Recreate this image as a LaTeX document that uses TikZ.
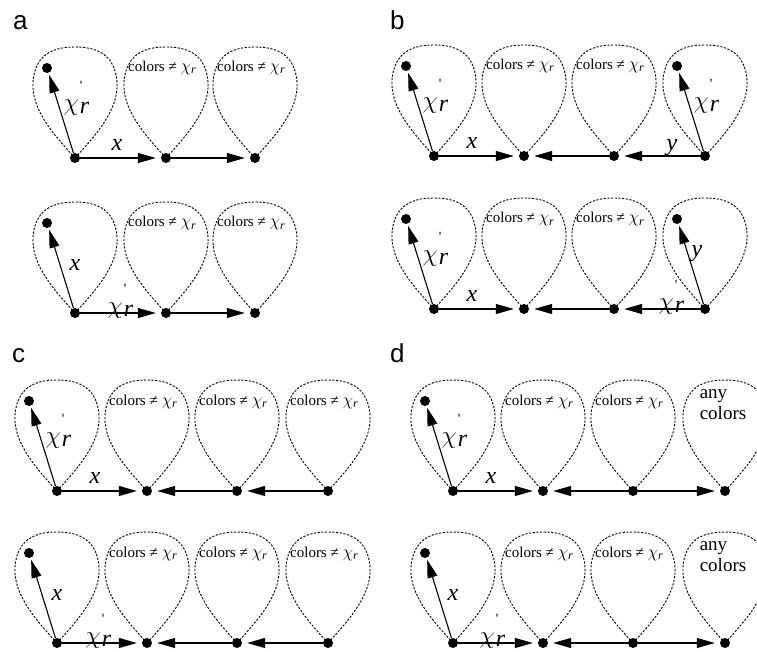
\documentclass[tikz,border=0pt]{standalone}
\usepackage{fontspec}
\setmainfont{Liberation Serif}
\newfontfamily\panelfont{Liberation Sans}
\usetikzlibrary{arrows.meta,calc}
\tikzset{
  vdot/.style={circle,fill=black,inner sep=0pt,minimum size=10pt},
  loopline/.style={line width=0.9pt,dash pattern=on 2.2pt off 1.5pt},
  harr/.style={line width=1.1pt,-{Triangle[length=18pt,width=10pt]},shorten >=5pt},
  larr/.style={line width=1.1pt,-{Triangle[length=18pt,width=10pt]},shorten >=2pt},
  ctext/.style={font=\fontsize{15}{15}\selectfont,inner sep=0pt,anchor=base},
  lab/.style={font=\fontsize{24}{24}\selectfont\itshape,inner sep=0pt},
  anytext/.style={font=\fontsize{19}{21}\selectfont,inner sep=0pt,align=left},
  panel/.style={font=\panelfont\fontsize{26}{26}\selectfont,anchor=base west,inner sep=0pt},
}
\newcommand\chip{{\fontsize{26}{26}\selectfont$\chi$}\hspace{1pt}\makebox[0pt][l]{\raisebox{-3pt}{r}}\raisebox{20pt}{\fontsize{14}{14}\selectfont\upshape\textquotesingle}\hspace{5pt}}
\newcommand\cneq{colors ≠ {\fontsize{17}{17}\selectfont$\chi$}\raisebox{-2pt}{\fontsize{12}{12}\selectfont\itshape r}}
\newcommand\vtx[3]{\node[vdot] (#1) at (#2,#3) {};
  \begin{scope}[shift={(#2,#3)}]
  \draw[loopline] (0,0) .. controls (-20,-22) and (-44,-48) .. (-42,-76)
     .. controls (-40,-102) and (-24,-111) .. (0,-111)
     .. controls (24,-111) and (40,-102) .. (42,-76)
     .. controls (44,-48) and (20,-22) .. (0,0);
  \end{scope}}
\newcommand\ctx[1]{\node[ctext] at ($(#1)+(-4,-86)$) {\cneq};}
\begin{document}
\begin{tikzpicture}[x=1pt,y=-1pt]
\useasboundingbox (0,0) rectangle (757,652);
\clip (0,0) rectangle (757,652);
% ---------------- panel a
\node[panel] (pa) at (13,30) {a};
\vtx{a11}{75}{158}\vtx{a12}{166}{158}\vtx{a13}{255}{158}
\node[vdot] (a1d) at (47,68) {};
\draw[larr] (a11) -- (a1d);
\draw[harr] (a11) -- (a12);
\draw[harr] (a12) -- (a13);
\node[lab] at ($(a11)+(-2,-60)$) {\chip};
\node[lab] at ($(a11)+(42,-13)$) {x};
\ctx{a12}\ctx{a13}
\vtx{a21}{75}{313}\vtx{a22}{166}{313}\vtx{a23}{255}{313}
\node[vdot] (a2d) at (47,223) {};
\draw[larr] (a21) -- (a2d);
\draw[harr] (a21) -- (a22);
\draw[harr] (a22) -- (a23);
\node[lab] at ($(a21)+(0,-48)$) {x};
\node[lab] at ($(a21)+(42,-12)$) {\chip};
\ctx{a22}\ctx{a23}
% ---------------- panel b
\node[panel] (pb) at (390,30) {b};
\vtx{b11}{434}{156}\vtx{b12}{524}{156}\vtx{b13}{614}{156}\vtx{b14}{705}{156}
\node[vdot] (b1d) at (406,66) {};
\node[vdot] (b1e) at (677,66) {};
\draw[larr] (b11) -- (b1d);
\draw[larr] (b14) -- (b1e);
\draw[harr] (b11) -- (b12);
\draw[harr] (b13) -- (b12);
\draw[harr] (b14) -- (b13);
\node[lab] at ($(b11)+(-2,-60)$) {\chip};
\node[lab] at ($(b14)+(-2,-60)$) {\chip};
\node[lab] at ($(b11)+(38,-13)$) {x};
\node[lab] at ($(b13)+(58,-8)$) {y};
\ctx{b12}\ctx{b13}
\vtx{b21}{434}{309}\vtx{b22}{524}{309}\vtx{b23}{614}{309}\vtx{b24}{705}{309}
\node[vdot] (b2d) at (406,219) {};
\node[vdot] (b2e) at (677,219) {};
\draw[larr] (b21) -- (b2d);
\draw[larr] (b24) -- (b2e);
\draw[harr] (b21) -- (b22);
\draw[harr] (b23) -- (b22);
\draw[harr] (b24) -- (b23);
\node[lab] at ($(b21)+(-2,-60)$) {\chip};
\node[lab] at ($(b24)+(-8,-55)$) {y};
\node[lab] at ($(b21)+(38,-13)$) {x};
\node[lab] at ($(b23)+(54,-12)$) {\chip};
\ctx{b22}\ctx{b23}
% ---------------- panel c
\node[panel] (pc) at (12,362) {c};
\vtx{c11}{57}{491}\vtx{c12}{147}{491}\vtx{c13}{237}{491}\vtx{c14}{328}{491}
\node[vdot] (c1d) at (29,401) {};
\draw[larr] (c11) -- (c1d);
\draw[harr] (c11) -- (c12);
\draw[harr] (c13) -- (c12);
\draw[harr] (c14) -- (c13);
\node[lab] at ($(c11)+(-2,-60)$) {\chip};
\node[lab] at ($(c11)+(38,-13)$) {x};
\ctx{c12}\ctx{c13}\ctx{c14}
\vtx{c21}{57}{643}\vtx{c22}{147}{643}\vtx{c23}{237}{643}\vtx{c24}{328}{643}
\node[vdot] (c2d) at (29,553) {};
\draw[larr] (c21) -- (c2d);
\draw[harr] (c21) -- (c22);
\draw[harr] (c23) -- (c22);
\draw[harr] (c24) -- (c23);
\node[lab] at ($(c21)+(0,-48)$) {x};
\node[lab] at ($(c21)+(38,-12)$) {\chip};
\ctx{c22}\ctx{c23}\ctx{c24}
% ---------------- panel d
\node[panel] (pd) at (390,362) {d};
\vtx{d11}{453}{491}\vtx{d12}{543}{491}\vtx{d13}{633}{491}\vtx{d14}{725}{491}
\node[vdot] (d1d) at (425,401) {};
\draw[larr] (d11) -- (d1d);
\draw[harr] (d11) -- (d12);
\draw[harr] (d13) -- (d12);
\draw[harr] (d13) -- (d14);
\node[lab] at ($(d11)+(-2,-60)$) {\chip};
\node[lab] at ($(d11)+(38,-13)$) {x};
\ctx{d12}\ctx{d13}
\node[anytext] at ($(d14)+(-2,-86)$) {any\\colors};
\vtx{d21}{453}{643}\vtx{d22}{543}{643}\vtx{d23}{633}{643}\vtx{d24}{725}{643}
\node[vdot] (d2d) at (425,553) {};
\draw[larr] (d21) -- (d2d);
\draw[harr] (d21) -- (d22);
\draw[harr] (d23) -- (d22);
\draw[harr] (d23) -- (d24);
\node[lab] at ($(d21)+(0,-48)$) {x};
\node[lab] at ($(d21)+(36,-12)$) {\chip};
\ctx{d22}\ctx{d23}
\node[anytext] at ($(d24)+(-2,-86)$) {any\\colors};
\end{tikzpicture}
\end{document}
